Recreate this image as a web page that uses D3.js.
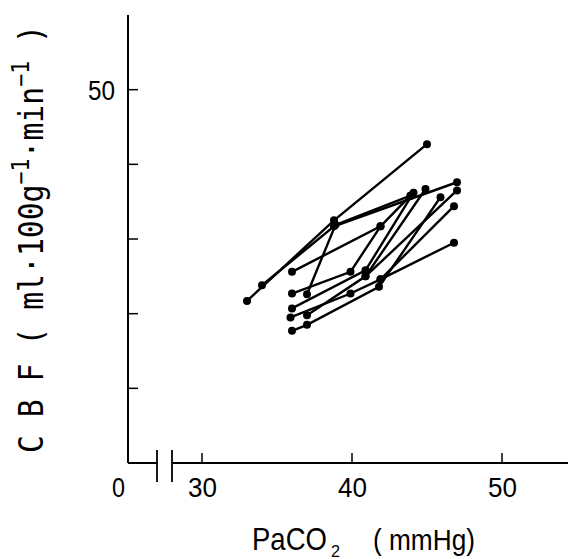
<!DOCTYPE html>
<head>
<script src="https://d3js.org/d3.v7.min.js"></script>
<meta charset="utf-8">
<style>
body { margin: 0; background: #fff; }
text { font-family: "Liberation Sans", Arial, sans-serif; fill: #000; }
</style>
</head>
<body>
<svg id="chart"></svg>
<script>

// one entry per animal: PaCO2 (mmHg) and CBF readings
var paco2 = [
  [33, 38.8, 45],
  [34, 38.8, 47],
  [37, 38.9, 43.9],
  [36, 41.9, 43.9],
  [36, 39.9, 41.9],
  [36, 40.9, 44.1],
  [35.9, 39.9, 41.9, 46.8],
  [37, 40.9, 44.9],
  [36, 37, 41.8, 45.9],
  [41.9, 46.8],
  [40.9, 47]
];
var cbf = [
  [21.7, 32.5, 42.7],
  [23.8, 31.7, 37.6],
  [22.6, 31.9, 35.8],
  [25.6, 31.7, 35.8],
  [22.7, 25.6, 31.7],
  [20.7, 25.8, 36.2],
  [19.5, 22.7, 24.6, 29.5],
  [19.8, 25.0, 36.7],
  [17.7, 18.5, 23.6, 35.6],
  [24.6, 34.4],
  [25.0, 36.5]
];
var xTicks = [30, 40, 50];
var yTicks = [10, 20, 30, 40, 50];

var width = 568, height = 559;
var svg = d3.select("#chart").attr("width", width).attr("height", height);

var x = d3.scaleLinear().domain([30, 50]).range([202, 502]);
var y = d3.scaleLinear().domain([0, 60]).range([463, 15]);
var x0 = 128; // where the y axis sits

// y axis with inward ticks
svg.append("line").attr("x1", x0).attr("x2", x0).attr("y1", y(60)).attr("y2", y(0))
  .attr("stroke", "#000").attr("stroke-width", 2);
svg.selectAll(".ytick").data(yTicks).join("line")
  .attr("x1", x0).attr("x2", x0 + 10)
  .attr("y1", d => y(d)).attr("y2", d => y(d))
  .attr("stroke", "#000").attr("stroke-width", 1.5);
svg.append("text").attr("x", 115).attr("y", y(50) + 10)
  .attr("text-anchor", "end").style("font-size", "27px")
  .attr("textLength", 27).attr("lengthAdjust", "spacingAndGlyphs").text("50");

// x axis, broken between 0 and 30
var yb = y(0);
svg.append("line").attr("x1", x0).attr("x2", 157).attr("y1", yb).attr("y2", yb)
  .attr("stroke", "#000").attr("stroke-width", 2);
svg.append("line").attr("x1", 172).attr("x2", width).attr("y1", yb).attr("y2", yb)
  .attr("stroke", "#000").attr("stroke-width", 2);
[157, 172].forEach(function(bx) {
  svg.append("line").attr("x1", bx).attr("x2", bx).attr("y1", yb - 13).attr("y2", yb + 19)
    .attr("stroke", "#000").attr("stroke-width", 1.8);
});
svg.selectAll(".xtick").data(xTicks).join("line")
  .attr("x1", d => x(d)).attr("x2", d => x(d))
  .attr("y1", yb).attr("y2", yb - 10)
  .attr("stroke", "#000").attr("stroke-width", 1.5);
svg.selectAll(".xlab").data(xTicks).join("text")
  .attr("x", d => x(d) - 14).attr("y", 497)
  .style("font-size", "27px")
  .attr("textLength", 29).attr("lengthAdjust", "spacingAndGlyphs")
  .text(d => d);
svg.append("text").attr("x", 112).attr("y", 497).style("font-size", "27px")
  .attr("textLength", 13).attr("lengthAdjust", "spacingAndGlyphs").text("0");

// axis titles
svg.append("text").attr("transform", "translate(252,550) scale(0.86,1)")
  .style("font-size", "32px").text("PaCO");
svg.append("text").attr("x", 331).attr("y", 557).style("font-size", "16px")
  .attr("textLength", 9).attr("lengthAdjust", "spacingAndGlyphs").text("2");
svg.append("text").attr("x", 373).attr("y", 550).style("font-size", "30px")
  .attr("textLength", 102).attr("lengthAdjust", "spacingAndGlyphs").text("(  mmHg)");

var yt = svg.append("text")
  .attr("transform", "translate(43,453) rotate(-90)")
  .style("font-family", "'DejaVu Sans Mono', 'Liberation Mono', monospace")
  .style("font-size", "33px")
  .attr("textLength", 428).attr("lengthAdjust", "spacingAndGlyphs");
yt.append("tspan").text("C B F ( ml\u00b7100g");
yt.append("tspan").style("font-size", "24px").attr("dy", -14).text("\u22121");
yt.append("tspan").attr("dy", 14).text("\u00b7min");
yt.append("tspan").style("font-size", "24px").attr("dy", -14).text("\u22121");
yt.append("tspan").attr("dy", 14).text(" )");

// subject lines and points
var line = d3.line().x(d => x(d[0])).y(d => y(d[1]));
var subjects = paco2.map((xs, i) => xs.map((v, j) => [v, cbf[i][j]]));

svg.append("g").selectAll("path").data(subjects).join("path")
  .attr("d", line).attr("fill", "none")
  .attr("stroke", "#000").attr("stroke-width", 2.4);
svg.append("g").selectAll("circle").data(subjects.flat()).join("circle")
  .attr("cx", d => x(d[0])).attr("cy", d => y(d[1])).attr("r", 4)
  .attr("fill", "#000");
</script>
</body>
